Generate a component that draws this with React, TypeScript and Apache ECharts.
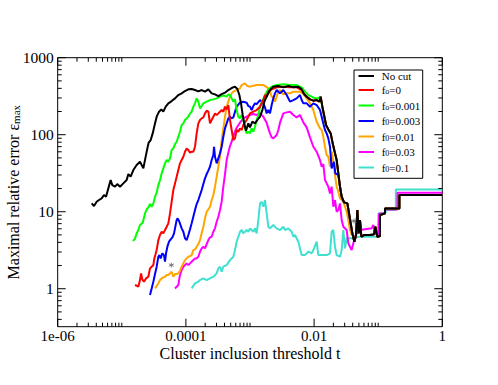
import React, { useEffect, useRef } from 'react';
import * as echarts from 'echarts';

const FONT = '"Liberation Serif", "Times New Roman", serif';

// All values are [log10(t), log10(eps_max)].
const noCut = [
  [-5.470,1.108],[-5.434,1.074],[-5.392,1.130],[-5.356,1.152],[-5.314,1.173],[-5.278,1.217],[-5.246,1.195],[-5.210,1.303],[-5.174,1.411],[-5.148,1.346],[-5.106,1.325],[-5.070,1.359],[-5.028,1.325],[-4.976,1.368],[-4.924,1.411],[-4.898,1.489],[-4.862,1.455],[-4.820,1.541],[-4.768,1.606],[-4.716,1.649],[-4.685,1.598],[-4.664,1.563],[-4.633,1.693],[-4.601,1.823],[-4.581,1.896],[-4.549,1.931],[-4.518,2.017],[-4.482,2.147],[-4.456,2.234],[-4.419,2.299],[-4.383,2.329],[-4.352,2.299],[-4.315,2.364],[-4.274,2.407],[-4.222,2.437],[-4.170,2.472],[-4.118,2.515],[-4.066,2.537],[-4.014,2.567],[-3.962,2.589],[-3.910,2.593],[-3.858,2.580],[-3.806,2.563],[-3.754,2.580],[-3.702,2.559],[-3.650,2.589],[-3.598,2.537],[-3.546,2.524],[-3.494,2.502],[-3.442,2.528],[-3.390,2.546],[-3.338,2.580],[-3.286,2.606],[-3.234,2.624],[-3.197,2.593],[-3.166,2.515],[-3.140,2.407],[-3.114,2.256],[-3.088,2.139],[-3.062,2.052],[-3.026,2.147],[-3.000,2.095],[-2.963,2.169],[-2.922,2.147],[-2.885,2.191],[-2.844,2.234],[-2.807,2.320],[-2.776,2.429],[-2.740,2.494],[-2.688,2.580],[-2.636,2.624],[-2.558,2.632],[-2.480,2.615],[-2.402,2.632],[-2.324,2.615],[-2.246,2.624],[-2.194,2.589],[-2.157,2.528],[-2.116,2.494],[-2.064,2.459],[-2.012,2.442],[-1.960,2.450],[-1.918,2.429],[-1.897,2.494],[-1.871,2.364],[-1.845,2.256],[-1.814,2.126],[-1.778,2.069],[-1.741,2.017],[-1.710,1.888],[-1.674,1.758],[-1.648,1.671],[-1.622,1.498],[-1.596,1.325],[-1.570,1.195],[-1.533,1.121],[-1.481,1.108],[-1.455,0.978],[-1.429,0.849],[-1.403,0.719],[-1.372,0.611],[-1.346,0.697],[-1.325,1.022],[-1.305,0.719],[-1.284,0.892],[-1.263,0.675],[-1.221,0.697],[-1.128,0.697],[-1.065,0.706],[-1.045,0.805],[-1.013,0.675],[-0.972,0.684],[-0.972,0.957],[-0.894,0.978],[-0.894,1.043],[-0.670,1.043],[-0.670,1.217],[0,1.217]
];

const fo0 = [
  [-4.794,0.048],[-4.768,0.039],[-4.742,0.026],[-4.716,0.113],[-4.700,0.199],[-4.680,0.121],[-4.654,0.091],[-4.622,0.134],[-4.586,0.156],[-4.560,0.264],[-4.534,0.286],[-4.508,0.307],[-4.492,0.394],[-4.477,0.437],[-4.456,0.502],[-4.430,0.632],[-4.404,0.697],[-4.378,0.740],[-4.352,0.719],[-4.326,0.762],[-4.300,0.805],[-4.274,0.849],[-4.248,0.978],[-4.222,1.130],[-4.196,1.282],[-4.170,1.368],[-4.144,1.455],[-4.118,1.541],[-4.092,1.628],[-4.066,1.671],[-4.040,1.714],[-4.014,1.779],[-3.988,1.823],[-3.962,1.801],[-3.936,1.766],[-3.910,1.779],[-3.884,1.779],[-3.858,1.844],[-3.832,2.017],[-3.806,2.147],[-3.780,2.191],[-3.754,2.212],[-3.728,2.225],[-3.702,2.277],[-3.676,2.312],[-3.650,2.299],[-3.624,2.147],[-3.598,2.191],[-3.572,2.234],[-3.546,2.277],[-3.520,2.256],[-3.494,2.277],[-3.468,2.299],[-3.442,2.320],[-3.416,2.299],[-3.390,2.364],[-3.364,2.329],[-3.338,2.385],[-3.312,2.191],[-3.286,2.061],[-3.260,1.931],[-3.234,1.953],[-3.208,2.061],[-3.182,2.039],[-3.156,2.082],[-3.130,2.061],[-3.104,2.126],[-3.052,2.191],[-3.000,2.277],[-2.948,2.299],[-2.896,2.320],[-2.844,2.364],[-2.792,2.450],[-2.766,2.515],[-2.740,2.494],[-2.714,2.559],[-2.662,2.589],[-2.584,2.615],[-2.480,2.624],[-2.376,2.615],[-2.272,2.615],[-2.194,2.580]
];

const fo0001 = [
  [-4.830,0.623],[-4.799,0.641],[-4.768,0.719],[-4.742,0.762],[-4.716,0.827],[-4.674,0.857],[-4.638,0.978],[-4.612,1.030],[-4.586,1.056],[-4.560,1.100],[-4.534,1.065],[-4.508,1.108],[-4.482,1.195],[-4.456,1.247],[-4.430,1.346],[-4.404,1.411],[-4.378,1.498],[-4.352,1.563],[-4.326,1.628],[-4.300,1.671],[-4.274,1.649],[-4.248,1.693],[-4.222,1.801],[-4.196,1.823],[-4.170,1.879],[-4.144,1.909],[-4.118,1.974],[-4.092,2.039],[-4.066,2.126],[-4.040,2.147],[-4.014,2.191],[-3.988,2.212],[-3.962,2.234],[-3.936,2.277],[-3.910,2.299],[-3.884,2.364],[-3.858,2.407],[-3.832,2.472],[-3.806,2.429],[-3.780,2.342],[-3.754,2.372],[-3.728,2.407],[-3.676,2.429],[-3.624,2.450],[-3.572,2.459],[-3.520,2.472],[-3.468,2.494],[-3.416,2.511],[-3.364,2.494],[-3.338,2.524],[-3.312,2.515],[-3.286,2.472],[-3.260,2.429],[-3.234,2.459],[-3.208,2.320],[-3.182,2.234],[-3.156,2.212],[-3.130,2.256],[-3.104,2.191],[-3.078,2.082],[-3.052,2.017],[-3.026,2.039],[-3.000,2.017],[-2.974,2.082],[-2.948,2.039],[-2.922,2.104],[-2.896,2.191],[-2.870,2.256],[-2.844,2.364],[-2.802,2.450],[-2.766,2.515],[-2.714,2.589],[-2.662,2.624],[-2.584,2.645],[-2.480,2.654],[-2.376,2.645],[-2.272,2.645],[-2.194,2.615],[-2.142,2.559],[-2.090,2.515],[-2.038,2.494],[-1.986,2.472],[-1.934,2.472],[-1.908,2.494]
];

const f0003 = [
  [-4.560,-0.082],[-4.534,0.004],[-4.508,0.091],[-4.482,0.191],[-4.456,0.286],[-4.430,0.416],[-4.414,0.437],[-4.394,0.394],[-4.368,0.459],[-4.342,0.437],[-4.326,0.351],[-4.310,0.459],[-4.289,0.546],[-4.263,0.611],[-4.237,0.641],[-4.211,0.667],[-4.185,0.719],[-4.170,0.784],[-4.144,0.892],[-4.128,0.914],[-4.102,0.870],[-4.066,0.784],[-4.040,0.740],[-4.014,0.654],[-3.988,0.632],[-3.962,0.697],[-3.936,0.771],[-3.910,0.849],[-3.884,0.935],[-3.858,1.022],[-3.832,1.100],[-3.806,1.152],[-3.780,1.217],[-3.754,1.282],[-3.728,1.359],[-3.702,1.433],[-3.676,1.489],[-3.650,1.533],[-3.624,1.585],[-3.598,1.671],[-3.572,1.736],[-3.561,1.844],[-3.546,1.714],[-3.520,1.628],[-3.494,1.693],[-3.468,1.758],[-3.442,1.844],[-3.416,1.974],[-3.390,2.082],[-3.364,2.147],[-3.338,2.212],[-3.312,2.234],[-3.286,2.212],[-3.260,2.225],[-3.234,2.299],[-3.208,2.364],[-3.156,2.416],[-3.104,2.429],[-3.052,2.416],[-3.026,2.372],[-3.000,2.364],[-2.974,2.320],[-2.948,2.372],[-2.922,2.407],[-2.896,2.398],[-2.844,2.450],[-2.792,2.407],[-2.766,2.355],[-2.740,2.277],[-2.714,2.320],[-2.688,2.277],[-2.662,2.385],[-2.636,2.472],[-2.610,2.537],[-2.584,2.580],[-2.532,2.537],[-2.480,2.580],[-2.428,2.515],[-2.376,2.429],[-2.324,2.450],[-2.272,2.472],[-2.220,2.515],[-2.194,2.450],[-2.168,2.407],[-2.116,2.407],[-2.064,2.364],[-2.012,2.407],[-1.960,2.385],[-1.908,2.320],[-1.882,2.234],[-1.856,2.147],[-1.830,2.061],[-1.804,2.017],[-1.778,1.953],[-1.752,1.844],[-1.726,1.563],[-1.689,1.649],[-1.669,1.498],[-1.622,1.476]
];

const f001 = [
  [-4.482,0.004],[-4.456,0.035],[-4.430,0.069],[-4.404,0.113],[-4.378,0.134],[-4.352,0.147],[-4.326,0.156],[-4.300,0.178],[-4.274,0.178],[-4.248,0.199],[-4.222,0.221],[-4.196,0.156],[-4.170,0.191],[-4.144,0.191],[-4.118,0.199],[-4.092,0.234],[-4.066,0.286],[-4.040,0.329],[-4.014,0.372],[-3.988,0.394],[-3.962,0.416],[-3.936,0.424],[-3.910,0.437],[-3.884,0.502],[-3.858,0.511],[-3.832,0.546],[-3.806,0.580],[-3.780,0.632],[-3.754,0.719],[-3.728,0.805],[-3.702,0.914],[-3.676,1.000],[-3.650,1.030],[-3.624,1.065],[-3.598,1.152],[-3.572,1.217],[-3.546,1.325],[-3.520,1.455],[-3.494,1.585],[-3.468,1.714],[-3.442,1.931],[-3.416,2.082],[-3.390,2.234],[-3.364,2.364],[-3.338,2.429],[-3.312,2.494],[-3.286,2.537],[-3.260,2.559],[-3.208,2.580],[-3.156,2.602],[-3.130,2.645],[-3.078,2.667],[-3.041,2.632],[-3.000,2.624],[-2.948,2.636],[-2.896,2.645],[-2.844,2.645],[-2.792,2.645],[-2.750,2.624],[-2.714,2.602],[-2.688,2.559],[-2.662,2.494],[-2.636,2.485],[-2.610,2.429],[-2.584,2.494],[-2.558,2.559],[-2.532,2.580],[-2.480,2.524],[-2.428,2.537],[-2.376,2.537],[-2.324,2.559],[-2.272,2.559],[-2.220,2.559],[-2.168,2.528],[-2.116,2.472],[-2.064,2.407],[-2.012,2.320],[-1.960,2.169],[-1.908,2.082],[-1.882,2.061],[-1.856,1.974],[-1.830,1.844],[-1.804,1.736],[-1.778,1.714],[-1.752,1.585],[-1.726,1.779],[-1.700,1.649],[-1.674,1.476],[-1.648,1.325],[-1.622,1.260],[-1.596,1.173],[-1.544,1.130],[-1.492,1.000],[-1.466,0.892],[-1.440,0.762],[-1.414,0.697]
];

const f003 = [
  [-4.170,0.004],[-4.144,0.026],[-4.118,0.048],[-4.102,0.134],[-4.092,0.178],[-4.066,0.242],[-4.040,0.286],[-4.014,0.307],[-3.988,0.329],[-3.962,0.307],[-3.936,0.329],[-3.910,0.351],[-3.884,0.372],[-3.858,0.394],[-3.832,0.394],[-3.806,0.416],[-3.780,0.481],[-3.754,0.524],[-3.728,0.546],[-3.702,0.524],[-3.676,0.580],[-3.650,0.632],[-3.624,0.667],[-3.598,0.675],[-3.572,0.740],[-3.546,0.784],[-3.520,0.870],[-3.494,0.935],[-3.468,1.022],[-3.442,1.130],[-3.416,1.325],[-3.390,1.489],[-3.364,1.671],[-3.338,1.766],[-3.312,1.853],[-3.286,1.909],[-3.260,1.983],[-3.234,2.039],[-3.208,2.091],[-3.156,2.156],[-3.104,2.212],[-3.052,2.234],[-3.000,2.256],[-2.948,2.268],[-2.896,2.256],[-2.844,2.277],[-2.792,2.234],[-2.740,2.156],[-2.714,2.082],[-2.688,2.017],[-2.662,1.965],[-2.636,1.953],[-2.610,1.974],[-2.584,1.996],[-2.558,2.061],[-2.532,2.156],[-2.480,2.277],[-2.428,2.290],[-2.376,2.299],[-2.324,2.256],[-2.272,2.225],[-2.220,2.256],[-2.168,2.160],[-2.116,2.095],[-2.064,1.965],[-2.012,1.844],[-1.960,1.779],[-1.908,1.671],[-1.882,1.585],[-1.856,1.619],[-1.830,1.411],[-1.804,1.368],[-1.778,1.325],[-1.752,1.238],[-1.726,1.325],[-1.700,1.065],[-1.674,1.152],[-1.648,1.000],[-1.622,1.022],[-1.596,1.108],[-1.570,0.892],[-1.544,0.805],[-1.492,0.762],[-1.466,0.589],[-1.440,0.546],[-1.414,0.502],[-1.388,0.589],[-1.362,0.675],[-1.336,0.719],[-1.284,0.762],[-1.102,0.784],[-1.076,0.827],[-1.050,0.719],[-0.998,0.697],[-0.985,0.978],[-0.894,0.978],[-0.894,1.030],[-0.700,1.030],[-0.700,1.247],[0,1.247]
];

const f01 = [
  [-3.910,0.004],[-3.858,0.069],[-3.806,0.091],[-3.780,0.113],[-3.728,0.134],[-3.676,0.113],[-3.624,0.134],[-3.572,0.156],[-3.520,0.199],[-3.494,0.264],[-3.468,0.286],[-3.442,0.221],[-3.416,0.286],[-3.364,0.307],[-3.312,0.372],[-3.260,0.416],[-3.234,0.502],[-3.208,0.611],[-3.182,0.675],[-3.156,0.740],[-3.130,0.762],[-3.104,0.719],[-3.052,0.762],[-3.026,0.740],[-3.000,0.784],[-2.974,0.762],[-2.948,0.740],[-2.922,0.784],[-2.896,0.719],[-2.870,0.892],[-2.844,1.108],[-2.818,1.130],[-2.792,1.065],[-2.766,1.152],[-2.740,0.978],[-2.714,0.805],[-2.688,0.784],[-2.636,0.827],[-2.584,0.784],[-2.532,0.762],[-2.480,0.805],[-2.454,0.762],[-2.402,0.784],[-2.350,0.740],[-2.324,0.675],[-2.298,0.697],[-2.246,0.611],[-2.194,0.437],[-2.142,0.437],[-2.090,0.481],[-2.038,0.459],[-2.012,0.502],[-1.960,0.611],[-1.934,0.437],[-1.856,0.437],[-1.804,0.437],[-1.752,0.459],[-1.726,0.740],[-1.700,0.762],[-1.674,0.546],[-1.648,0.437],[-1.596,0.416],[-1.570,0.502],[-1.544,0.762],[-1.518,0.524],[-1.492,0.654],[-1.440,0.654],[-1.388,0.654],[-1.310,0.675],[-0.998,0.675],[-0.998,0.978],[-0.894,0.978],[-0.868,1.022],[-0.725,1.022],[-0.725,1.290],[0,1.290]
];

const asterisks = [[-4.227, 0.307], [-1.377, 0.879]];

const xMajor = [-6, -4, -2, 0];
const xTickLabels = ['1e-06', '0.0001', '0.01', '1'];
const yMajor = [0, 1, 2, 3];
const yTickLabels = ['1', '10', '100', '1000'];
const X_MIN = -6, X_MAX = 0;
const Y_MIN = -0.493, Y_MAX = 3;

const xMinor: number[] = [];
[-6, -4, -2].forEach((d) => { for (let k = 2; k <= 10; k++) xMinor.push(d + Math.log10(k)); });
const yMinor: number[] = [];
[-1, 0, 1, 2].forEach((d) => { for (let k = 2; k <= 9; k++) { const v = d + Math.log10(k); if (v > Y_MIN && v < Y_MAX) yMinor.push(v); } });

// tick items: [position, kind (0 = x, 1 = y), isMajor]
const tickItems: number[][] = [
  ...xMajor.map((v) => [v, 0, 1]),
  ...xMinor.map((v) => [v, 0, 0]),
  ...yMajor.map((v) => [v, 1, 1]),
  ...yMinor.map((v) => [v, 1, 0]),
];

const mergeWithNoCut = (pts: number[][]) => pts.concat(noCut.filter((p) => p[0] > pts[pts.length - 1][0]));

const curves = [
  { name: 'f0=0.1', data: f01, color: '#40e0d0', legend: ['f', '0', '=0.1'] },
  { name: 'f0=0.03', data: f003, color: '#ff00ff', legend: ['f', '0', '=0.03'] },
  { name: 'f0=0.01', data: mergeWithNoCut(f001), color: '#ffa500', legend: ['f', '0', '=0.01'] },
  { name: 'f0=0.003', data: mergeWithNoCut(f0003), color: '#0000ff', legend: ['f', '0', '=0.003'] },
  { name: 'fo=0.001', data: mergeWithNoCut(fo0001), color: '#00ff00', legend: ['f', 'o', '=0.001'] },
  { name: 'fo=0', data: mergeWithNoCut(fo0), color: '#ff0000', legend: ['f', 'o', '=0'] },
  { name: 'No cut', data: noCut, color: '#000000', legend: ['No cut'] },
];

const legendOrder = [6, 5, 4, 3, 2, 1, 0];
const legendRowY = [76, 90, 105.5, 121, 136.5, 152, 167.5];

export default function App() {
  const ref = useRef<HTMLDivElement>(null);
  useEffect(() => {
    if (!ref.current) return;
    const chart = echarts.init(ref.current, undefined, { renderer: 'svg' });
    const labelStyle = { fontFamily: FONT, fontSize: 15, lineHeight: 13, color: '#000' };

    const legendGraphics: any[] = [
      { type: 'rect', shape: { x: 354, y: 70, width: 68.7, height: 108.3 }, style: { fill: '#fff', stroke: '#000', lineWidth: 1 } },
    ];
    legendOrder.forEach((ci, i) => {
      const c = curves[ci];
      const y = legendRowY[i];
      legendGraphics.push({ type: 'line', shape: { x1: 358.5, y1: y, x2: 374, y2: y }, style: { stroke: c.color, lineWidth: 2 } });
      const text = c.legend.length === 1 ? `{m|${c.legend[0]}}` : `{m|${c.legend[0]}}{s|${c.legend[1]}}{m|${c.legend[2]}}`;
      legendGraphics.push({
        type: 'text', x: 381.7, y: y - 5.5,
        style: {
          text, verticalAlign: 'top', align: 'left',
          rich: {
            m: { fontFamily: FONT, fontSize: 11, lineHeight: 11, verticalAlign: 'top', fill: '#000' },
            s: { fontFamily: FONT, fontSize: 8, lineHeight: 8, padding: [7, 0, 0, 0], verticalAlign: 'bottom', fill: '#000' },
          },
        },
      });
    });

    chart.setOption({
      animation: false,
      backgroundColor: '#fff',
      grid: { left: 57.7, right: 55.7, top: 57.7, bottom: 58.3, containLabel: false, outerBoundsMode: 'none', show: true, borderColor: '#000', borderWidth: 1, backgroundColor: 'transparent' },
      xAxis: {
        type: 'value', min: X_MIN, max: X_MAX, splitLine: { show: false },
        axisLine: { show: false, onZero: false }, axisTick: { show: false },
        axisLabel: { show: true, customValues: xMajor, margin: 2.5, formatter: (v: number) => xTickLabels[xMajor.indexOf(Math.round(v))] ?? '', ...labelStyle },
        name: 'Cluster inclusion threshold t', nameLocation: 'middle', nameGap: 20, nameMoveOverlap: false,
        nameTextStyle: { fontFamily: FONT, fontSize: 16, lineHeight: 13, color: '#000' },
      },
      yAxis: {
        type: 'value', min: Y_MIN, max: Y_MAX, splitLine: { show: false },
        axisLine: { show: false, onZero: false }, axisTick: { show: false },
        axisLabel: { show: true, customValues: yMajor, margin: 4, formatter: (v: number) => yTickLabels[yMajor.indexOf(Math.round(v))] ?? '', fontFamily: FONT, fontSize: 15.5, color: '#000' },
        name: '{a|Maximal relative error ε}{b|max}', nameLocation: 'middle', nameRotate: 90, nameGap: 36.5, nameMoveOverlap: false,
        nameTextStyle: {
          fontFamily: FONT, color: '#000',
          rich: {
            a: { fontFamily: FONT, fontSize: 16, lineHeight: 16, verticalAlign: 'top', color: '#000' },
            b: { fontFamily: FONT, fontSize: 11, lineHeight: 11, padding: [8, 0, 0, 0], verticalAlign: 'bottom', color: '#000' },
          },
        },
      },
      series: [
        {
          type: 'custom', silent: true, clip: false, data: tickItems, z: 5,
          renderItem: (params: any, api: any) => {
            const cs = params.coordSys;
            const v = api.value(0), kind = api.value(1), len = api.value(2) ? 8 : 4;
            const style = { stroke: '#000', lineWidth: 1 };
            if (kind === 0) {
              const px = api.coord([v, Y_MIN])[0];
              return { type: 'group', children: [
                { type: 'line', shape: { x1: px, y1: cs.y + cs.height, x2: px, y2: cs.y + cs.height - len }, style },
                { type: 'line', shape: { x1: px, y1: cs.y, x2: px, y2: cs.y + len }, style },
              ] };
            }
            const py = api.coord([X_MIN, v])[1];
            return { type: 'group', children: [
              { type: 'line', shape: { x1: cs.x, y1: py, x2: cs.x + len, y2: py }, style },
              { type: 'line', shape: { x1: cs.x + cs.width, y1: py, x2: cs.x + cs.width - len, y2: py }, style },
            ] };
          },
        },
        ...curves.map((c) => ({
          type: 'line', name: c.name, data: c.data,
          showSymbol: false, symbol: 'none', silent: true, clip: true, z: 3,
          lineStyle: { color: c.color, width: 2 }, itemStyle: { color: c.color },
        })),
        {
          type: 'scatter', data: asterisks, silent: true, z: 4,
          symbol: 'path://M5,0L5,10M0.7,2.5L9.3,7.5M0.7,7.5L9.3,2.5', symbolSize: 5,
          itemStyle: { color: 'transparent', borderColor: '#666', borderWidth: 1 },
        },
      ],
      graphic: [{ type: 'group', z: 100, children: legendGraphics }],
    });
    return () => chart.dispose();
  }, []);
  return <div ref={ref} style={{ position: 'fixed', left: 0, top: 0, width: 498, height: 385 }} />;
}
